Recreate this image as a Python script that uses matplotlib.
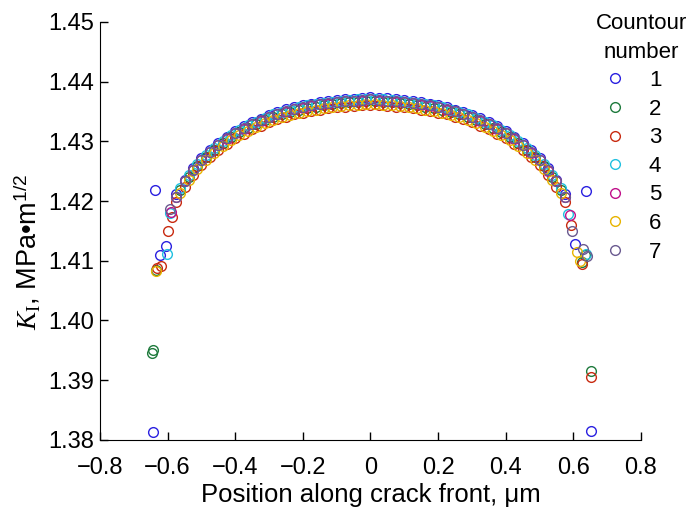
import matplotlib
matplotlib.use('Agg')
import matplotlib.pyplot as plt
from matplotlib.ticker import FormatStrFormatter

plt.rcParams['font.family'] = 'Liberation Sans'
plt.rcParams['mathtext.fontset'] = 'custom'
plt.rcParams['mathtext.rm'] = 'Liberation Serif'
plt.rcParams['mathtext.it'] = 'Liberation Serif:italic'
plt.rcParams['mathtext.sf'] = 'Liberation Sans'

# positions along the crack front (um): grid A for contours 1,3,5,7, grid B for 2,4,6
pos_a = [-0.575, -0.55, -0.525, -0.5, -0.475, -0.45, -0.425, -0.4, -0.375, -0.35,
         -0.325, -0.3, -0.275, -0.25, -0.225, -0.2, -0.175, -0.15, -0.125, -0.1,
         -0.075, -0.05, -0.025, 0.0, 0.025, 0.05, 0.075, 0.1, 0.125, 0.15,
         0.175, 0.2, 0.225, 0.25, 0.275, 0.3, 0.325, 0.35, 0.375, 0.4,
         0.425, 0.45, 0.475, 0.5, 0.525, 0.55, 0.575]
pos_b = [-0.5625, -0.5375, -0.5125, -0.4875, -0.4625, -0.4375, -0.4125, -0.3875,
         -0.3625, -0.3375, -0.3125, -0.2875, -0.2625, -0.2375, -0.2125, -0.1875,
         -0.1625, -0.1375, -0.1125, -0.0875, -0.0625, -0.0375, -0.0125,
         0.0125, 0.0375, 0.0625, 0.0875, 0.1125, 0.1375, 0.1625, 0.1875,
         0.2125, 0.2375, 0.2625, 0.2875, 0.3125, 0.3375, 0.3625, 0.3875,
         0.4125, 0.4375, 0.4625, 0.4875, 0.5125, 0.5375, 0.5625]

k1 = [1.4211, 1.4236, 1.4255, 1.4272, 1.4286, 1.4297, 1.4308, 1.4317, 1.4325, 1.4333,
      1.4338, 1.4344, 1.4349, 1.4354, 1.4357, 1.4361, 1.4363, 1.4366, 1.4367, 1.4369,
      1.4371, 1.4371, 1.4373, 1.4375, 1.4373, 1.4372, 1.4370, 1.4369, 1.4367, 1.4365,
      1.4363, 1.4360, 1.4357, 1.4353, 1.4349, 1.4344, 1.4339, 1.4332, 1.4325, 1.4318,
      1.4308, 1.4297, 1.4286, 1.4272, 1.4256, 1.4236, 1.4211]
k2 = [1.4218, 1.4240, 1.4258, 1.4273, 1.4285, 1.4297, 1.4307, 1.4315, 1.4323, 1.4329,
      1.4335, 1.4341, 1.4345, 1.4349, 1.4353, 1.4356, 1.4358, 1.4360, 1.4362, 1.4364,
      1.4365, 1.4366, 1.4367, 1.4367, 1.4366, 1.4365, 1.4364, 1.4362, 1.4360, 1.4358,
      1.4356, 1.4353, 1.4349, 1.4345, 1.4341, 1.4335, 1.4329, 1.4323, 1.4315, 1.4307,
      1.4297, 1.4285, 1.4273, 1.4258, 1.4240, 1.4218]
k3 = [1.4198, 1.4224, 1.4243, 1.4260, 1.4273, 1.4285, 1.4296, 1.4305, 1.4313, 1.4320,
      1.4326, 1.4332, 1.4337, 1.4341, 1.4345, 1.4348, 1.4351, 1.4353, 1.4355, 1.4357,
      1.4358, 1.4359, 1.4360, 1.4361, 1.4360, 1.4359, 1.4358, 1.4357, 1.4355, 1.4353,
      1.4351, 1.4348, 1.4345, 1.4341, 1.4337, 1.4332, 1.4326, 1.4320, 1.4313, 1.4305,
      1.4296, 1.4285, 1.4273, 1.4260, 1.4243, 1.4224, 1.4198]
k4 = [1.4222, 1.4244, 1.4262, 1.4277, 1.4289, 1.4301, 1.4311, 1.4319, 1.4327, 1.4333,
      1.4339, 1.4345, 1.4349, 1.4353, 1.4357, 1.4360, 1.4362, 1.4364, 1.4366, 1.4368,
      1.4369, 1.4370, 1.4371, 1.4371, 1.4370, 1.4369, 1.4368, 1.4366, 1.4364, 1.4362,
      1.4360, 1.4357, 1.4353, 1.4349, 1.4345, 1.4339, 1.4333, 1.4327, 1.4319, 1.4311,
      1.4301, 1.4289, 1.4277, 1.4262, 1.4244, 1.4222]
k5 = [1.4206, 1.4233, 1.4252, 1.4268, 1.4282, 1.4293, 1.4304, 1.4314, 1.4321, 1.4329,
      1.4334, 1.4340, 1.4346, 1.4349, 1.4354, 1.4356, 1.4359, 1.4362, 1.4363, 1.4365,
      1.4367, 1.4367, 1.4368, 1.4370, 1.4368, 1.4368, 1.4366, 1.4365, 1.4364, 1.4361,
      1.4359, 1.4357, 1.4353, 1.4350, 1.4345, 1.4341, 1.4334, 1.4329, 1.4321, 1.4314,
      1.4304, 1.4294, 1.4281, 1.4269, 1.4251, 1.4233, 1.4206]
k6 = [1.4213, 1.4235, 1.4253, 1.4268, 1.4280, 1.4292, 1.4302, 1.4310, 1.4318, 1.4324,
      1.4330, 1.4336, 1.4340, 1.4344, 1.4348, 1.4351, 1.4353, 1.4355, 1.4357, 1.4359,
      1.4360, 1.4361, 1.4362, 1.4362, 1.4361, 1.4360, 1.4359, 1.4357, 1.4355, 1.4353,
      1.4351, 1.4348, 1.4344, 1.4340, 1.4336, 1.4330, 1.4324, 1.4318, 1.4310, 1.4302,
      1.4292, 1.4280, 1.4268, 1.4253, 1.4235, 1.4213]
k7 = [1.4207, 1.4233, 1.4252, 1.4269, 1.4282, 1.4294, 1.4305, 1.4314, 1.4322, 1.4329,
      1.4335, 1.4341, 1.4346, 1.4350, 1.4354, 1.4357, 1.4360, 1.4362, 1.4364, 1.4366,
      1.4367, 1.4368, 1.4369, 1.4370, 1.4369, 1.4368, 1.4367, 1.4366, 1.4364, 1.4362,
      1.4360, 1.4357, 1.4354, 1.4350, 1.4346, 1.4341, 1.4335, 1.4329, 1.4322, 1.4314,
      1.4305, 1.4294, 1.4282, 1.4269, 1.4252, 1.4233, 1.4207]

# scattered points near the free surfaces, per contour
edge_x = [[-0.643, -0.637, -0.622, -0.605, 0.605, 0.637, 0.652],
          [-0.645, -0.643, -0.634, 0.625, 0.635, 0.652],
          [-0.588, -0.598, -0.621, -0.632, 0.592, 0.625, 0.652],
          [-0.603, -0.592, 0.585, 0.637],
          [-0.590, 0.590],
          [-0.634, 0.612, 0.620],
          [-0.592, 0.596, 0.630, 0.640]]
edge_k = [[1.3813, 1.4218, 1.4110, 1.4125, 1.4128, 1.4217, 1.3815],
          [1.3945, 1.3951, 1.4085, 1.4098, 1.4110, 1.3915],
          [1.4174, 1.4150, 1.4092, 1.4088, 1.4160, 1.4094, 1.3905],
          [1.4112, 1.4180, 1.4178, 1.4112],
          [1.4182, 1.4176],
          [1.4083, 1.4115, 1.4100],
          [1.4186, 1.4150, 1.4120, 1.4108]]

labels = ['1', '2', '3', '4', '5', '6', '7']
colors = ['#2a20e0', '#1e7a3c', '#c82a10', '#20c0e0', '#c0108a', '#e8b400', '#6a5a90']

fig = plt.figure(figsize=(6.91, 5.08), dpi=100)
ax = fig.add_axes([0.1447, 0.134, 0.7829, 0.823])

series = [k1, k2, k3, k4, k5, k6, k7]
grids = [pos_a, pos_b, pos_a, pos_b, pos_a, pos_b, pos_a]
for i in range(7):
    xs = grids[i] + edge_x[i]
    ks = series[i] + edge_k[i]
    ax.plot(xs, ks, linestyle='none', marker='o', markersize=7, markerfacecolor='none',
            markeredgecolor=colors[i], markeredgewidth=1.0, label=labels[i])

ax.set_xlim(-0.8, 0.8)
ax.set_ylim(1.38, 1.45)
ax.set_xticks([-0.8, -0.6, -0.4, -0.2, 0, 0.2, 0.4, 0.6, 0.8])
ax.set_xticklabels(['\u22120.8', '\u22120.6', '\u22120.4', '\u22120.2', '0', '0.2', '0.4', '0.6', '0.8'])
ax.set_yticks([1.38, 1.39, 1.40, 1.41, 1.42, 1.43, 1.44, 1.45])
ax.yaxis.set_major_formatter(FormatStrFormatter('%.2f'))
ax.tick_params(direction='in', length=6, width=1, labelsize=17)
ax.tick_params(axis='x', pad=12)
ax.tick_params(axis='y', pad=4)
ax.spines['top'].set_visible(False)
ax.spines['right'].set_visible(False)

ax.set_xlabel('Position along crack front, \u03bcm', fontsize=18.5, labelpad=3)
ax.set_ylabel('$K_\\mathrm{I}$, MPa\u2022m$^{\\mathsf{1/2}}$', fontsize=19.5)
ax.yaxis.set_label_coords(-0.107, 0.45)

leg = ax.legend(title='Countour\nnumber', loc='upper left', frameon=False,
                bbox_to_anchor=(596 / 691, 0.975), bbox_transform=fig.transFigure,
                borderpad=0, borderaxespad=0, fontsize=16, title_fontsize=16,
                labelspacing=0.34, handlelength=1.7, handletextpad=0.68,
                alignment='left')
leg.get_title().set_linespacing(1.5)
leg.get_title().set_multialignment('center')

fig.savefig('out.png', dpi=100)
